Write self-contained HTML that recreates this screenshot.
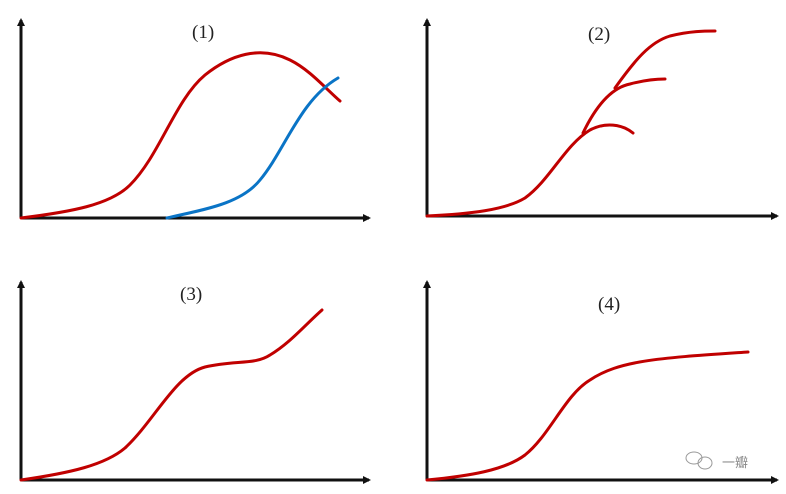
<!DOCTYPE html>
<html><head><meta charset="utf-8"><style>
html,body{margin:0;padding:0;background:#fff;width:786px;height:494px;overflow:hidden}
text{font-family:"Liberation Serif",serif;font-size:19px;fill:#222}
</style></head><body>
<svg width="786" height="494" viewBox="0 0 786 494" xmlns="http://www.w3.org/2000/svg">
<defs><marker id="a" markerWidth="8" markerHeight="8" refX="6" refY="4" orient="auto" markerUnits="userSpaceOnUse"><path d="M0,0 L8,4 L0,8 Z" fill="#111"/></marker></defs>
<g stroke="#111" stroke-width="3" fill="none">
<path d="M21,218 V20" marker-end="url(#a)"/><path d="M21,218 H369" marker-end="url(#a)"/>
<path d="M427,216 V20" marker-end="url(#a)"/><path d="M427,216 H777" marker-end="url(#a)"/>
<path d="M21,480 V282" marker-end="url(#a)"/><path d="M21,480 H369" marker-end="url(#a)"/>
<path d="M427,480 V282" marker-end="url(#a)"/><path d="M427,480 H777" marker-end="url(#a)"/>
</g>
<g fill="none" stroke-width="3" stroke-linecap="round">
<path stroke="#c00000" d="M21,218 C70,212 110,205 130,185 C160,155 175,100 205,75 C230,55 260,45 290,60 C310,70 325,88 340,101"/>
<path stroke="#0a74c6" d="M167,218 C200,210 240,205 260,180 C285,150 300,100 338,78"/>
<path stroke="#c00000" d="M427,216 C470,214 505,210 525,198 C550,180 565,145 590,130 C605,122 622,124 633,133"/>
<path stroke="#c00000" d="M583,133 C595,108 610,88 630,84 C645,80 655,79 665,79"/>
<path stroke="#c00000" d="M615,88 C635,60 650,42 670,36 C690,31 705,31 715,31"/>
<path stroke="#c00000" d="M21,480 C70,473 105,465 125,448 C155,420 175,375 205,367 C235,360 255,365 270,355 C290,343 305,325 322,310"/>
<path stroke="#c00000" d="M427,480 C470,476 505,470 525,455 C550,435 565,395 590,380 C620,360 660,358 748,352"/>
</g>
<text x="192" y="38">(1)</text>
<text x="588" y="40">(2)</text>
<text x="180" y="300">(3)</text>
<text x="598" y="310">(4)</text>
<text x="722" y="467" style="font-size:13px;fill:#888;font-family:'Liberation Sans','Noto Sans CJK SC',sans-serif">一瓣</text>
<g stroke="#999" fill="none" stroke-width="1"><ellipse cx="694" cy="458" rx="8" ry="6"/><ellipse cx="705" cy="463" rx="7" ry="6"/></g>
</svg>
</body></html>
